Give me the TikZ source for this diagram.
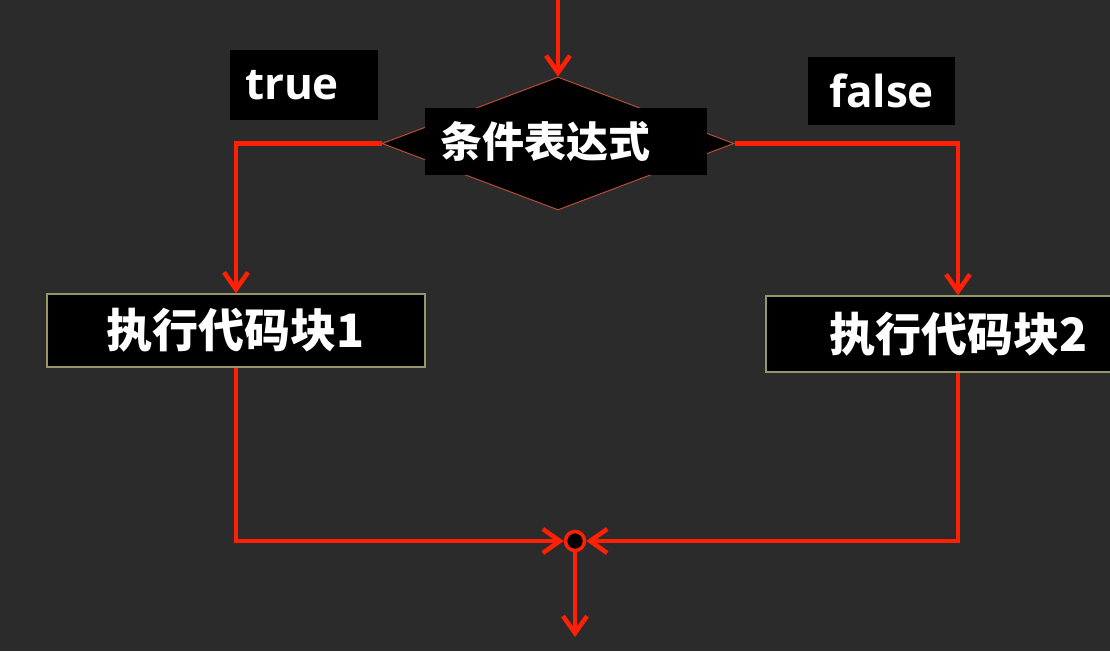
\documentclass[tikz,border=0pt]{standalone}
\usepackage{fontspec}
\newfontfamily\cjk{Noto Sans CJK SC}
\newfontfamily\latin{Open Sans}
\usetikzlibrary{shapes.geometric,arrows.meta}
\definecolor{board}{RGB}{43,43,43}
\definecolor{flowred}{RGB}{255,32,5}
\definecolor{rimred}{RGB}{185,75,55}
\definecolor{rimkhaki}{RGB}{150,150,105}
\tikzset{
  flow/.style={draw=flowred, line width=4.5pt},
  tip/.style={-{Straight Barb[length=17pt,width=24pt,line width=4.5pt]}},
  block/.style={draw=rimkhaki, line width=1.5pt, fill=black, text=white,
    font=\cjk\bfseries\fontsize{46}{50}\selectfont, inner sep=0pt},
  tag/.style={fill=black, text=white, inner sep=0pt,
    font=\latin\bfseries\fontsize{44}{48}\selectfont}
}
\begin{document}
\begin{tikzpicture}[x=1pt, y=-1pt]
        \fill[board] (0,0) rectangle (1110,651);
        \useasboundingbox (0,0) rectangle (1110,651);

        % decision
        \node[diamond, draw=rimred, line width=1pt, fill=black, inner sep=0pt,
        minimum width=352pt, minimum height=133pt]
        (cond) at (558,143.5) {};
        \node[fill=black, text=white, inner xsep=15pt, inner ysep=0pt,
        text width=252pt, minimum height=67pt, align=left,
        font=\cjk\bfseries\fontsize{42}{46}\selectfont]
        (condtxt) at (566,141.5) {条件表达式};

        \node[tag, minimum width=148pt, minimum height=70pt]
        (lbltrue) at (304,85) {\hspace*{-24pt}true};
        \node[tag, minimum width=147pt, minimum height=68pt]
        (lblfalse) at (881.5,91) {false};

        % branches
        \node[block, minimum width=378pt, minimum height=73pt]
        (blockA) at (236,330.5) {执行代码块1};
        \node[block, minimum width=384pt, minimum height=76pt]
        (blockB) at (958,334) {执行代码块2};

        \node[circle, draw=flowred, line width=3.5pt, fill=black,
        minimum size=19pt, inner sep=0pt]
        (merge) at (575,541) {};
        \coordinate (entry) at (558,-5);
        \coordinate (exit) at (575,637);

        \draw[flow, tip] (entry) -- (cond.north);
        \draw[flow, tip] (cond.west) -| (blockA.north);
        \draw[flow, tip] (cond.east) -| (blockB.north);
        \draw[flow, tip] (blockA.south) |- (merge.west);
        \draw[flow, tip] (blockB.south) |- (merge.east);
        \draw[flow, tip] (merge.south) -- (exit);
    \end{tikzpicture}
\end{document}
